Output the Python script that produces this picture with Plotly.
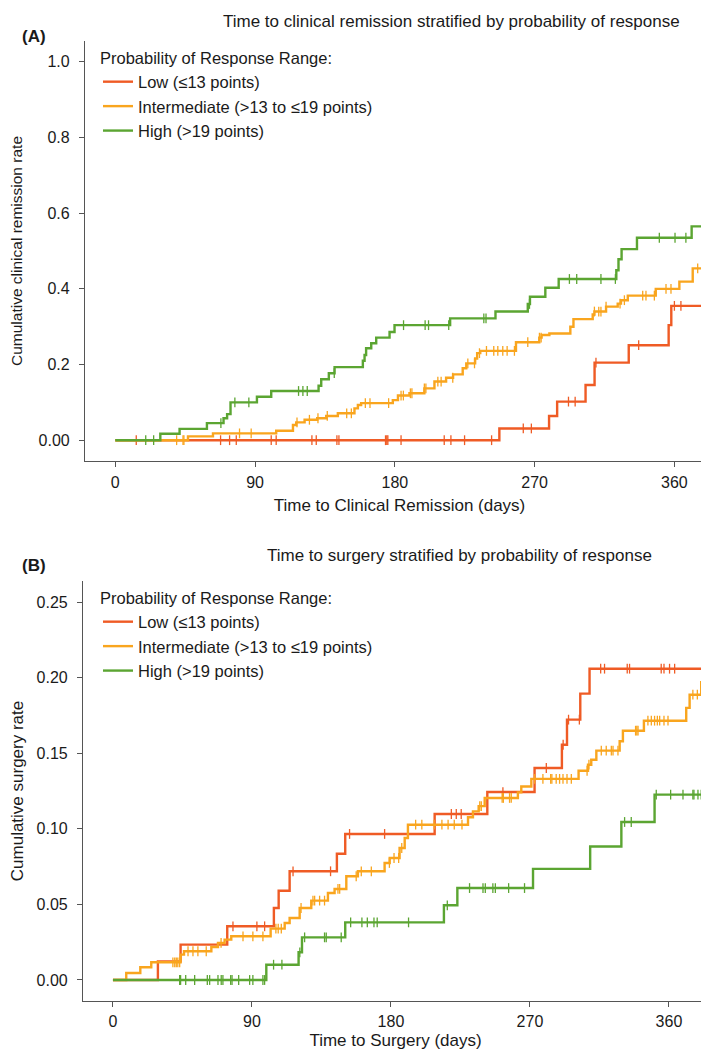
import plotly.graph_objects as go

# ---------------- Panel A: time to clinical remission ----------------
A_low_t = [0, 247.3, 279.3, 284.5, 302.8, 308.6, 330.6, 356.3, 358.0]
A_low_v = [0, 0.031, 0.064, 0.102, 0.146, 0.205, 0.251, 0.304, 0.355]
A_low_end = 385.5
A_low_cens = [13.5, 67.8, 73.6, 77.9, 100.4, 103.6, 126.6, 129.4, 142.7, 144.0,
              174.0, 174.8, 175.5, 184.0, 211.8, 216.1, 224.9, 242.3, 262.7, 267.9,
              291.8, 296.1, 309.5, 337.0, 360.0, 364.2]

A_int_t = [0, 46.8, 62.9, 103.6, 114.4, 116.5, 121.9, 130.0, 135.8, 143.3, 154.0,
           156.2, 158.3, 178.7, 182.0, 189.4, 199.0, 205.5, 213.0, 217.5, 223.7,
           226.0, 231.7, 233.0, 235.0, 258.0, 273.0, 274.5, 279.5, 293.0, 295.0,
           307.4, 308.5, 316.0, 323.5, 325.6, 330.0, 348.0, 363.2, 371.8]
A_int_v = [0, 0.010, 0.018, 0.025, 0.040, 0.047, 0.054, 0.058, 0.064, 0.071, 0.084,
           0.093, 0.098, 0.106, 0.118, 0.124, 0.137, 0.155, 0.165, 0.174, 0.190,
           0.203, 0.216, 0.230, 0.236, 0.259, 0.271, 0.278, 0.282, 0.300, 0.320,
           0.332, 0.340, 0.353, 0.361, 0.370, 0.382, 0.400, 0.419, 0.454]
A_int_end = 385.5
A_int_cens = [39.5, 43.6, 44.2, 80.0, 87.5, 117.0, 125.0, 130.5, 136.5, 149.0, 152.0,
              161.0, 164.0, 176.0, 184.0, 185.5, 190.0, 191.0, 199.0, 200.0, 207.7,
              209.8, 217.3, 227.0, 231.3, 234.5, 239.0, 243.7, 246.3, 249.5, 252.3,
              257.0, 265.6, 273.1, 274.2, 308.5, 311.3, 312.7, 316.0, 325.0, 327.8,
              339.6, 341.7, 347.1, 354.6, 357.8, 375.0, 378.2, 381.0]

A_high_t = [0, 29.0, 41.4, 59.0, 69.7, 72.0, 74.2, 91.2, 100.4, 130.9, 132.6, 137.5,
            141.2, 159.4, 160.5, 161.5, 164.8, 168.0, 176.6, 179.8, 215.6, 244.8,
            265.6, 267.0, 276.9, 285.5, 322.6, 324.0, 326.0, 335.9, 371.1]
A_high_v = [0, 0.017, 0.030, 0.045, 0.058, 0.069, 0.100, 0.115, 0.130, 0.144, 0.161,
            0.177, 0.193, 0.210, 0.225, 0.243, 0.256, 0.271, 0.286, 0.304, 0.322,
            0.340, 0.360, 0.379, 0.403, 0.426, 0.449, 0.478, 0.505, 0.535, 0.565]
A_high_end = 385.5
A_high_cens = [19.6, 24.7, 68.0, 77.0, 86.0, 118.0, 120.8, 123.6, 141.0, 185.6, 199.5,
               201.7, 214.7, 237.3, 238.7, 266.7, 292.4, 297.1, 312.7, 322.0, 350.3,
               360.4, 367.4]

# ---------------- Panel B: time to surgery ----------------
B_low_t = [0, 29.1, 43.8, 74.0, 104.2, 107.3, 114.4, 145.0, 150.4, 208.3, 242.4,
           273.0, 290.7, 294.0, 302.6, 308.6]
B_low_v = [0, 0.0123, 0.0234, 0.0355, 0.0476, 0.0590, 0.0719, 0.0835, 0.0966,
           0.1098, 0.1243, 0.1402, 0.1556, 0.1722, 0.1894, 0.2059]
B_low_end = 384.0
B_low_cens = [77.7, 93.2, 98.2, 116.6, 140.9, 153.2, 175.9, 219.1, 222.3, 225.5,
              252.5, 280.6, 291.5, 295.0, 302.0, 315.8, 318.3, 333.0, 334.5, 355.0,
              356.8, 360.4, 363.7]

B_int_t = [0, 8.6, 17.7, 24.8, 43.8, 46.0, 63.7, 68.0, 72.3, 76.6, 102.1, 111.2,
           114.4, 120.9, 128.4, 139.2, 143.5, 151.1, 158.6, 175.9, 179.2, 185.6,
           188.9, 191.0, 229.9, 233.1, 236.8, 240.7, 262.2, 264.4, 270.9, 301.5,
           307.6, 309.7, 313.0, 328.1, 330.2, 343.8, 371.2, 373.4, 380.9]
B_int_v = [0, 0.0046, 0.0084, 0.0117, 0.0168, 0.0190, 0.0218, 0.0245, 0.0267,
           0.0289, 0.0340, 0.0377, 0.0410, 0.0476, 0.0525, 0.0575, 0.0602, 0.0686,
           0.0719, 0.0774, 0.0807, 0.0873, 0.0939, 0.1027, 0.1076, 0.1115, 0.1150,
           0.1204, 0.1241, 0.1280, 0.1330, 0.1384, 0.1424, 0.1457, 0.1517, 0.1579,
           0.1649, 0.1715, 0.1800, 0.1887, 0.1969]
B_int_end = 385.3
B_int_cens = [38.8, 40.0, 41.0, 42.0, 43.2, 48.6, 51.8, 55.0, 60.4, 70.0, 84.2, 90.6,
              97.1, 105.5, 107.0, 109.0, 121.8, 129.5, 130.6, 133.8, 137.0, 145.7,
              146.8, 157.5, 160.8, 167.3, 179.0, 182.0, 185.0, 187.0, 196.0, 200.0,
              208.0, 213.0, 217.0, 221.0, 226.0, 237.5, 238.5, 252.0, 252.8, 256.8,
              257.9, 273.0, 278.4, 283.4, 284.2, 287.0, 289.2, 291.4, 294.0, 296.8,
              307.0, 308.2, 316.2, 319.4, 322.7, 323.8, 327.0, 338.4, 339.2, 340.0,
              346.4, 348.6, 350.7, 352.5, 354.0, 356.8, 359.4, 375.5, 378.4, 383.1,
              384.8]

B_high_t = [0, 99.3, 120.2, 122.4, 150.4, 214.3, 223.0, 272.0, 309.0, 329.2, 350.7]
B_high_v = [0, 0.0101, 0.0183, 0.0282, 0.0381, 0.0494, 0.0608, 0.0735, 0.0883,
            0.1045, 0.1226]
B_high_end = 385.3
B_high_cens = [43.2, 43.8, 47.1, 52.9, 61.1, 62.6, 68.0, 70.1, 71.2, 76.2, 77.1, 81.4,
               88.5, 90.6, 97.1, 98.2, 104.0, 109.4, 121.0, 124.1, 137.0, 138.1,
               147.8, 153.9, 161.2, 164.7, 169.0, 171.1, 191.4, 216.5, 230.9, 239.6,
               241.1, 246.0, 247.6, 256.2, 266.5, 331.3, 335.6, 351.8, 361.1, 369.1,
               375.5, 376.2, 378.8, 380.9, 383.1]

group_names = ["Low (\u226413 points)", "Intermediate (>13 to \u226419 points)", "High (>19 points)"]
group_colors = ["#EF5B25", "#F9A51E", "#5BA532"]

x_ticks = [0, 90, 180, 270, 360]
A_y_ticks = [0, 0.2, 0.4, 0.6, 0.8, 1.0]
A_y_labels = ["0.00", "0.2", "0.4", "0.6", "0.8", "1.0"]
B_y_ticks = [0, 0.05, 0.10, 0.15, 0.20, 0.25]
B_y_labels = ["0.00", "0.05", "0.10", "0.15", "0.20", "0.25"]

FONT = "Liberation Sans, Arial, Helvetica, sans-serif"
TXT = "#1a1a1a"
AX = "#555555"


def step_at(times, vals, t):
    y = vals[0]
    for ti, vi in zip(times, vals):
        if ti <= t:
            y = vi
        else:
            break
    return y


fig = go.Figure()

panels = [
    ("x", "y", "legend", [(A_low_t, A_low_v, A_low_end, A_low_cens),
                          (A_int_t, A_int_v, A_int_end, A_int_cens),
                          (A_high_t, A_high_v, A_high_end, A_high_cens)]),
    ("x2", "y2", "legend2", [(B_low_t, B_low_v, B_low_end, B_low_cens),
                             (B_int_t, B_int_v, B_int_end, B_int_cens),
                             (B_high_t, B_high_v, B_high_end, B_high_cens)]),
]

for xa, ya, leg, groups in panels:
    for (t, v, end, cens), name, col in zip(groups, group_names, group_colors):
        fig.add_trace(go.Scatter(
            x=t + [end], y=v + [v[-1]], mode="lines", line=dict(color=col, width=2.4, shape="hv"),
            name=name, xaxis=xa, yaxis=ya, legend=leg, showlegend=True, hoverinfo="skip"))
        fig.add_trace(go.Scatter(
            x=cens, y=[step_at(t, v, c) for c in cens], mode="markers",
            marker=dict(symbol="line-ns", size=7, line=dict(color=col, width=1.3)),
            xaxis=xa, yaxis=ya, showlegend=False, hoverinfo="skip"))

W, H = 709, 1049

common_axis = dict(showline=True, linecolor=AX, linewidth=1.2, ticks="outside", ticklen=5,
                   tickwidth=1.2, tickcolor=AX, showgrid=False, zeroline=False,
                   tickfont=dict(size=16, color=TXT, family=FONT))

fig.update_layout(
    width=W, height=H, margin=dict(l=0, r=0, t=0, b=0),
    paper_bgcolor="white", plot_bgcolor="white",
    font=dict(family=FONT, size=16, color=TXT),
    xaxis=dict(domain=[77 / W, 706 / W], range=[-19.5, 385.5], tickvals=x_ticks, anchor="y",
               title=dict(text="Time to Clinical Remission (days)", font=dict(size=17), standoff=8),
               ticklabelstandoff=2, **common_axis),
    yaxis=dict(domain=[1 - 453 / H, 1 - 33 / H], range=[-0.055, 1.055], tickvals=A_y_ticks,
               ticktext=A_y_labels, anchor="x",
               title=dict(text="Cumulative clinical remission rate", font=dict(size=15.5), standoff=14),
               ticklabelstandoff=6, **common_axis),
    xaxis2=dict(domain=[75 / W, 700 / W], range=[-19.4, 385.3], tickvals=x_ticks, anchor="y2",
                title=dict(text="Time to Surgery (days)", font=dict(size=17), standoff=4),
                ticklabelstandoff=1, **common_axis),
    yaxis2=dict(domain=[1 - 993 / H, 1 - 573 / H], range=[-0.0139, 0.2639], tickvals=B_y_ticks,
                ticktext=B_y_labels, anchor="x2",
                title=dict(text="Cumulative surgery rate", font=dict(size=17), standoff=12),
                ticklabelstandoff=6, **common_axis),
    legend=dict(x=90 / W, y=1 - 35 / H, xanchor="left", yanchor="top", bgcolor="rgba(0,0,0,0)",
                font=dict(size=16.5, color=TXT), title=dict(text="Probability of Response Range:",
                                                            font=dict(size=16.5, color=TXT)),
                itemwidth=30, tracegroupgap=0),
    legend2=dict(x=90 / W, y=1 - 575 / H, xanchor="left", yanchor="top", bgcolor="rgba(0,0,0,0)",
                 font=dict(size=16.5, color=TXT), title=dict(text="Probability of Response Range:",
                                                             font=dict(size=16.5, color=TXT)),
                 itemwidth=30, tracegroupgap=0),
    annotations=[
        dict(text="Time to clinical remission stratified by probability of response",
             x=213 / W, y=1 - 14 / H, xref="paper", yref="paper", xanchor="left", yanchor="middle",
             showarrow=False, font=dict(size=17, color=TXT)),
        dict(text="<b>(A)</b>", x=12 / W, y=1 - 28 / H, xref="paper", yref="paper",
             xanchor="left", yanchor="middle", showarrow=False, font=dict(size=17, color=TXT)),
        dict(text="Time to surgery stratified by probability of response",
             x=257 / W, y=1 - 547 / H, xref="paper", yref="paper", xanchor="left", yanchor="middle",
             showarrow=False, font=dict(size=17, color=TXT)),
        dict(text="<b>(B)</b>", x=12 / W, y=1 - 557 / H, xref="paper", yref="paper",
             xanchor="left", yanchor="middle", showarrow=False, font=dict(size=17, color=TXT)),
    ],
)

fig.write_html("out.html")
